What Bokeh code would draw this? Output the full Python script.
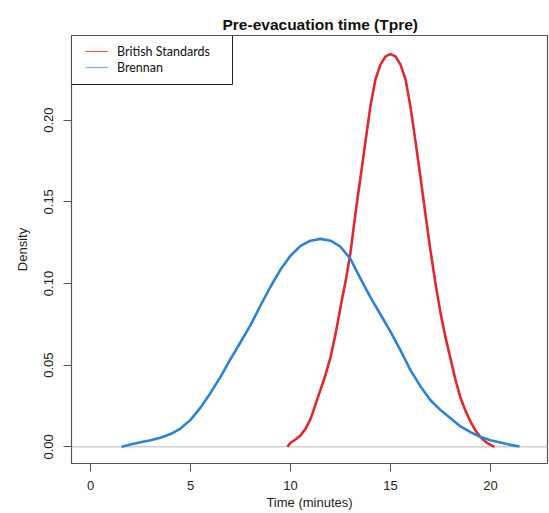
from bokeh.plotting import figure
from bokeh.models import Span, Legend, LegendItem, BoxAnnotation, FixedTicker, Range1d
from bokeh.embed import file_html
from bokeh.resources import INLINE

# ---- data ----
title_text = "Pre-evacuation time (Tpre)"
x_label = "Time (minutes)"
y_label = "Density"
series_names = ["British Standards", "Brennan"]

red_t = [9.85, 10.0, 10.25, 10.5, 10.75, 11.0, 11.25, 11.5, 11.75, 12.0, 12.25, 12.5,
         12.75, 13.0, 13.25, 13.5, 13.75, 14.0, 14.25, 14.5, 14.75, 15.0, 15.25, 15.5,
         15.75, 16.0, 16.25, 16.5, 16.75, 17.0, 17.25, 17.5, 17.75, 18.0, 18.25, 18.5,
         18.75, 19.0, 19.25, 19.5, 19.75, 20.0, 20.2]
red_d = [0.000, 0.0025, 0.0045, 0.0070, 0.0110, 0.0170, 0.0260, 0.0350, 0.0440, 0.0548,
         0.0690, 0.0855, 0.1010, 0.1190, 0.1430, 0.1650, 0.1870, 0.2090, 0.2250, 0.2340,
         0.2390, 0.2404, 0.2390, 0.2340, 0.2250, 0.2080, 0.1870, 0.1650, 0.1420, 0.1200,
         0.1000, 0.0820, 0.0670, 0.0540, 0.0410, 0.0300, 0.0220, 0.0155, 0.0100, 0.0060,
         0.0030, 0.0012, 0.000]

blue_t = [1.55, 2.0, 2.5, 3.0, 3.5, 4.0, 4.5, 5.0, 5.5, 6.0, 6.5, 7.0, 7.5, 8.0, 8.5,
          9.0, 9.5, 10.0, 10.5, 11.0, 11.5, 12.0, 12.5, 13.0, 13.5, 14.0, 14.5, 15.0,
          15.5, 16.0, 16.5, 17.0, 17.5, 18.0, 18.5, 19.0, 19.5, 20.0, 20.5, 21.0, 21.45]
blue_d = [0.000, 0.0014, 0.0028, 0.0040, 0.0056, 0.0078, 0.0112, 0.0165, 0.0240, 0.0330,
          0.0428, 0.0537, 0.0640, 0.0745, 0.0865, 0.0980, 0.1085, 0.1170, 0.1230, 0.1262,
          0.1273, 0.1262, 0.1225, 0.1150, 0.1030, 0.0915, 0.0810, 0.0705, 0.0590, 0.0470,
          0.0370, 0.0285, 0.0225, 0.0175, 0.0125, 0.0090, 0.0060, 0.0040, 0.0027, 0.0012,
          0.0002]

x_ticks = [0, 5, 10, 15, 20]
x_tick_labels = ["0", "5", "10", "15", "20"]
y_ticks = [0.0, 0.05, 0.10, 0.15, 0.20]
y_tick_labels = ["0.00", "0.05", "0.10", "0.15", "0.20"]

RED = "#DE2A2F"
BLUE = "#2B82D6"
FONT = "Liberation Sans"

p = figure(width=549, height=513, output_backend="svg", toolbar_location=None,
           x_range=Range1d(-0.95, 22.85), y_range=Range1d(-0.0102, 0.2518),
           min_border_left=71, min_border_right=2, min_border_top=35, min_border_bottom=50)
p.title.text = title_text
p.title.align = "left"
p.title.offset = 151
p.title.standoff = 6
p.title.text_font = FONT
p.title.text_font_style = "bold"
p.title.text_font_size = "15.5px"
p.title.text_color = "#111111"

p.xgrid.visible = False
p.ygrid.visible = False
p.outline_line_color = "#555555"
p.outline_line_width = 1.2
p.background_fill_color = "white"

# baseline at zero
p.add_layout(Span(location=0, dimension="width", line_color="#cfcfcf", line_width=1.5, level="underlay"))

p.line(red_t, red_d, line_color=RED, line_width=2.6, line_join="round")
p.line(blue_t, blue_d, line_color=BLUE, line_width=2.6, line_join="round")

# legend frame (screen units from the frame's bottom-left)
p.add_layout(BoxAnnotation(left=0, right=161, top=428, bottom=379,
                           left_units="screen", right_units="screen",
                           top_units="screen", bottom_units="screen",
                           fill_color="white", fill_alpha=1.0,
                           line_color="#222222", line_width=1, line_alpha=1.0))

# thin legend glyphs (renderers kept outside the visible ranges)
lr = p.line([-50, -49], [-1, -1], line_color=RED, line_width=1.2, line_alpha=0.75)
lb = p.line([-50, -49], [-1, -1], line_color=BLUE, line_width=1.2, line_alpha=0.65)
legend = Legend(items=[LegendItem(label=series_names[0], renderers=[lr]),
                       LegendItem(label=series_names[1], renderers=[lb])],
                location=(14, 388), margin=0, padding=0, spacing=0,
                glyph_width=23, glyph_height=16, label_height=16, label_standoff=9,
                border_line_alpha=0, background_fill_alpha=0,
                label_text_font="Lato", label_text_font_size="12.5px", label_text_color="#111111")
p.add_layout(legend)

for ax in (p.xaxis[0], p.yaxis[0]):
    ax.axis_line_color = None
    ax.major_tick_line_color = "#555555"
    ax.major_tick_in = 0
    ax.major_tick_out = 8
    ax.minor_tick_line_color = None
    ax.major_label_text_font = FONT
    ax.major_label_text_font_size = "13px"
    ax.major_label_text_color = "#222222"
    ax.axis_label_text_font = FONT
    ax.axis_label_text_font_style = "normal"
    ax.axis_label_text_font_size = "13px"
    ax.axis_label_text_color = "#222222"

p.xaxis.ticker = FixedTicker(ticks=x_ticks)
p.xaxis.major_label_overrides = {t: l for t, l in zip(x_ticks, x_tick_labels)}
p.xaxis.major_label_standoff = 9
p.xaxis.axis_label = x_label
p.xaxis.axis_label_standoff = 2

p.yaxis.ticker = FixedTicker(ticks=y_ticks)
p.yaxis.major_label_overrides = {t: l for t, l in zip(y_ticks, y_tick_labels)}
p.yaxis.major_label_orientation = "vertical"
p.yaxis.major_label_standoff = 10
p.yaxis.axis_label = y_label
p.yaxis.axis_label_standoff = 12

open("out.html", "w").write(file_html(p, INLINE))
